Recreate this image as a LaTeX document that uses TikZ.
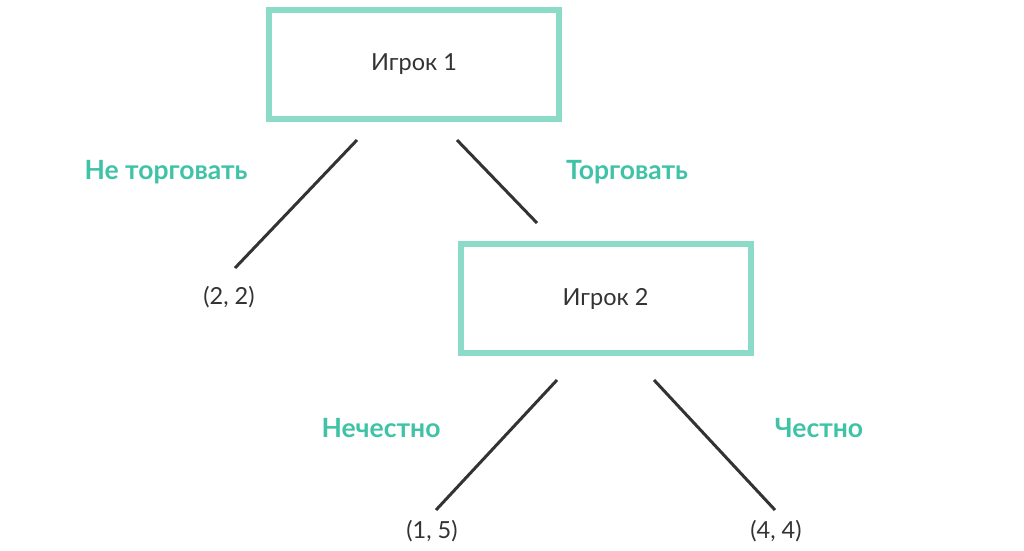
\documentclass[tikz,border=0pt]{standalone}
\usepackage{fontspec}
\setmainfont{Lato}
\definecolor{boxgreen}{HTML}{8CDBC9}
\definecolor{labgreen}{HTML}{3EC3A6}
\definecolor{ink}{HTML}{333333}
\tikzset{
	player/.style={draw=boxgreen, line width=6pt, minimum width=290pt, minimum height=109pt, text=ink, font=\fontsize{23.5}{28}\selectfont},
	move/.style={text=labgreen, font=\fontsize{26.5}{30}\selectfont\bfseries},
	payoff/.style={text=ink, font=\fontsize{23.5}{28}\selectfont},
	branch/.style={draw=ink, line width=3pt}
}

\begin{document}
\begin{tikzpicture}[x=1pt,y=-1pt]
	\useasboundingbox (0,0) rectangle (1024,550);
	\node[player] (p1) at (414,64.5) {Игрок 1};
	\node[player] (p2) at (605.5,298.5) {Игрок 2};
%
	\node[move] (nt) at (166,172) {Не торговать};
	\node[move] (tr) at (627,172) {Торговать};
	\node[move] (ne) at (381,428) {Нечестно};
	\node[move] (ch) at (819,428) {Честно};
%
	\node[payoff] (o22) at (229,297) {(2, 2)};
	\node[payoff] (o15) at (432,531) {(1, 5)};
	\node[payoff] (o44) at (776,531) {(4, 4)};
%
	\coordinate (a1) at (357,140);
	\coordinate (a2) at (235,268);
	\coordinate (b1) at (457,140);
	\coordinate (b2) at (537,223);
	\coordinate (c1) at (557,380);
	\coordinate (c2) at (436,510);
	\coordinate (d1) at (654,380);
	\coordinate (d2) at (775,510);
	\draw[branch] (a1) -- (a2);
	\draw[branch] (b1) -- (b2);
	\draw[branch] (c1) -- (c2);
	\draw[branch] (d1) -- (d2);
\end{tikzpicture}
\end{document}
